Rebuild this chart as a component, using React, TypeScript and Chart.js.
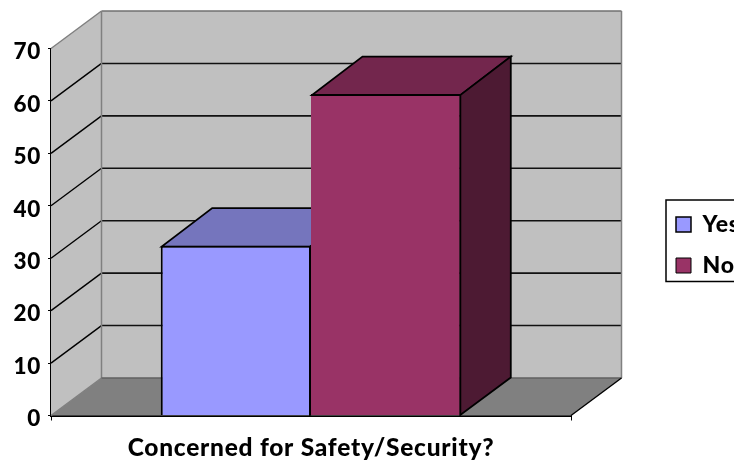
import React, { useEffect, useRef } from "react";
import { Chart, registerables } from "chart.js";

Chart.register(...registerables);

const categories = ["Concerned for Safety/Security?"];
const seriesNames = ["Yes", "No"];
const yesValues = [32.4];
const noValues = [61.3];
const yMax = 70;
const yStep = 10;

const FONT = "Lato, 'Open Sans', sans-serif";
const DX = 50.5;
const DY = 37.5;
const BAR_DY = 38.5;
const WALL = "#C0C0C0";
const FLOOR = "#808080";
const EDGE = "#808080";
const faces = [
  { front: "#9999FF", top: "#7575BD", side: "#4D4D80" },
  { front: "#993366", top: "#73264D", side: "#4D1A33" },
];

function poly(ctx: CanvasRenderingContext2D, pts: number[][], fill?: string, stroke?: string, lw = 1) {
  ctx.beginPath();
  pts.forEach((p, i) => (i ? ctx.lineTo(p[0], p[1]) : ctx.moveTo(p[0], p[1])));
  ctx.closePath();
  if (fill) {
    ctx.fillStyle = fill;
    ctx.fill();
  }
  if (stroke) {
    ctx.strokeStyle = stroke;
    ctx.lineWidth = lw;
    ctx.stroke();
  }
}

function line(ctx: CanvasRenderingContext2D, a: number[], b: number[], color: string, lw: number) {
  ctx.beginPath();
  ctx.moveTo(a[0], a[1]);
  ctx.lineTo(b[0], b[1]);
  ctx.strokeStyle = color;
  ctx.lineWidth = lw;
  ctx.stroke();
}

const box3d = {
  id: "box3d",
  beforeDraw(chart: any) {
    chart.ctx.letterSpacing = "0.75px";
  },
  afterLayout(chart: any) {
    const lg = chart.legend;
    lg.left = 658;
    lg.right = lg.left + lg.width;
    lg.top = 195;
    lg.bottom = lg.top + lg.height;
  },
  beforeDatasetsDraw(chart: any) {
    const { ctx, chartArea: a, scales } = chart;
    const y = scales.y;
    const y0 = y.getPixelForValue(0);
    const yT = y.getPixelForValue(yMax);
    ctx.save();
    poly(ctx, [[a.left, y0], [a.left + DX, y0 - DY], [a.left + DX, yT - DY], [a.left, yT]], WALL);
    poly(ctx, [[a.left + DX, y0 - DY], [a.right + DX, y0 - DY], [a.right + DX, yT - DY], [a.left + DX, yT - DY]], WALL);
    poly(ctx, [[a.left, y0], [a.right, y0], [a.right + DX, y0 - DY], [a.left + DX, y0 - DY]], FLOOR);

    for (const t of y.ticks) {
      if (t.value === 0) continue;
      const py = y.getPixelForValue(t.value);
      if (t.value === yMax) continue;
      line(ctx, [a.left, py], [a.left + DX, py - DY], "#000000", 1.4);
      line(ctx, [a.left + DX, py - DY], [a.right + DX, py - DY], "#111111", 1.6);
    }
    line(ctx, [a.left, yT], [a.left + DX, yT - DY], EDGE, 1.5);
    line(ctx, [a.left + DX, yT - DY], [a.right + DX, yT - DY], "#707070", 1.5);
    line(ctx, [a.left + DX, yT - DY], [a.left + DX, y0 - DY], EDGE, 1.5);
    line(ctx, [a.right + DX, yT - DY], [a.right + DX, y0 - DY], EDGE, 1.5);
    line(ctx, [a.left, y0], [a.left + DX, y0 - DY], EDGE, 1.5);
    line(ctx, [a.left + DX, y0 - DY], [a.right + DX, y0 - DY], "#606060", 1.5);
    line(ctx, [a.right, y0], [a.right + DX, y0 - DY], "#000000", 1.4);

    chart.data.datasets.forEach((_: any, i: number) => {
      const bar = chart.getDatasetMeta(i).data[0];
      const l = bar.x - bar.width / 2 + 1;
      const r = bar.x + bar.width / 2 - 1;
      const t = bar.y + 1;
      const b = bar.base;
      poly(ctx, [[l, t], [r, t], [r + DX, t - BAR_DY], [l + DX, t - BAR_DY]], faces[i].top, "#000000", 1.8);
      poly(ctx, [[r, t], [r + DX, t - BAR_DY], [r + DX, b - DY], [r, b]], faces[i].side, "#000000", 1.8);
    });
    ctx.restore();
  },
  afterDraw(chart: any) {
    const { ctx, legend } = chart;
    ctx.save();
    ctx.strokeStyle = "#000000";
    ctx.lineWidth = 1.5;
    ctx.strokeRect(legend.left + 8, legend.top + 5, 120, 81.5);
    ctx.restore();
  },
};

export default function App() {
  const ref = useRef<HTMLCanvasElement>(null);
  useEffect(() => {
    const chart = new Chart(ref.current as HTMLCanvasElement, {
      type: "bar",
      data: {
        labels: categories.map(() => ""),
        datasets: [
          {
            label: seriesNames[0],
            data: yesValues,
            backgroundColor: faces[0].front,
            borderColor: "#000000",
            borderWidth: { top: 2, right: 2, bottom: 0, left: 2 },
          },
          {
            label: seriesNames[1],
            data: noValues,
            backgroundColor: faces[1].front,
            borderColor: "#000000",
            borderWidth: { top: 2, right: 2, bottom: 0, left: 0 },
          },
        ],
      },
      options: {
        responsive: false,
        animation: false,
        layout: { padding: { left: 0, top: 48.5, right: 163, bottom: 0 } },
        datasets: { bar: { categoryPercentage: 0.578, barPercentage: 1 } },
        plugins: {
          tooltip: { enabled: false },
          legend: {
            position: "chartArea",
            align: "start",
            labels: {
              boxWidth: 15,
              boxHeight: 15,
              padding: 18,
              color: "#000000",
              font: { family: FONT, size: 23, weight: "900" },
            },
          },
        },
        scales: {
          x: {
            afterFit(s: any) {
              s.height = 44.5;
            },
            grid: { display: true, drawOnChartArea: false, drawTicks: true, tickLength: 5, color: "#000000" },
            border: { color: "#000000", width: 2 },
            ticks: { display: false },
            title: {
              display: true,
              text: categories[0],
              color: "#000000",
              font: { family: FONT, size: 24.5, weight: "900" },
              padding: { top: 8, bottom: -2.5 },
            },
          },
          y: {
            min: 0,
            max: yMax,
            afterFit(s: any) {
              s.width = 51;
            },
            ticks: {
              stepSize: yStep,
              color: "#000000",
              padding: 7,
              labelOffset: 3.5,
              font: { family: FONT, size: 22.5, weight: "900" },
            },
            grid: { display: true, drawOnChartArea: false, drawTicks: true, tickLength: 3, color: "#000000" },
            border: { color: "#000000", width: 2 },
          },
        },
      } as any,
      plugins: [box3d],
    });
    return () => chart.destroy();
  }, []);
  return (
    <div style={{ position: "absolute", left: 0, top: 0, width: 734, height: 460, overflow: "hidden", background: "#fff" }}>
      <canvas ref={ref} width={734} height={460} style={{ display: "block" }} />
    </div>
  );
}
